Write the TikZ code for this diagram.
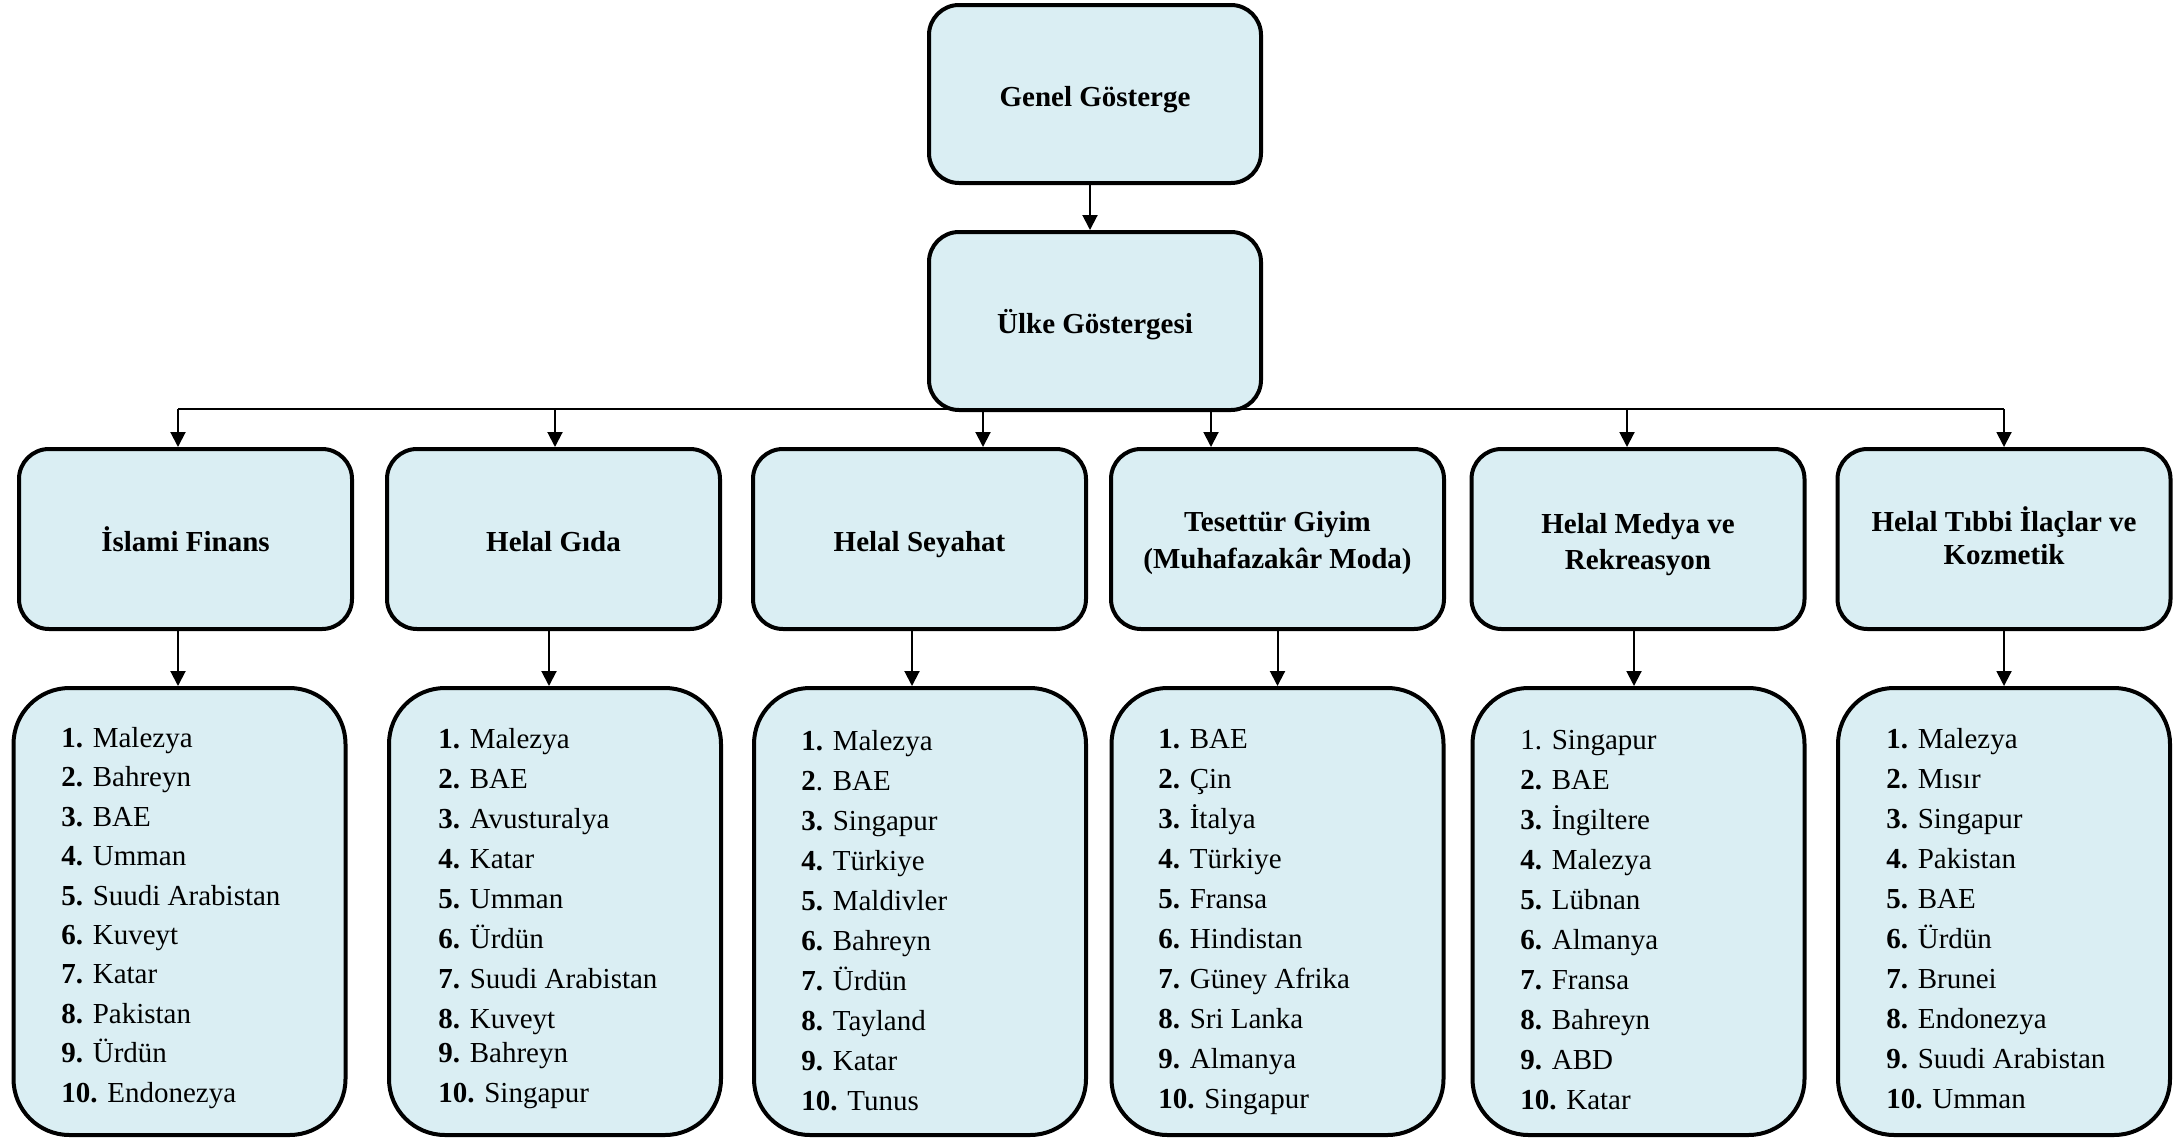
\documentclass[tikz,border=0pt]{standalone}
\usepackage{fontspec}
\setmainfont{Liberation Serif}
\usetikzlibrary{arrows.meta}
\definecolor{boxfill}{HTML}{DAEEF3}
\newcommand\nb[1]{\textbf{#1}}
\newcommand\hstrut[1]{\rule[-3pt]{0pt}{#1}}
\begin{document}
\begin{tikzpicture}[x=0.5pt,y=-0.5pt,
  box/.style={draw=black, line width=2pt, fill=boxfill, rounded corners=15pt,
    minimum width=166.5pt, minimum height=90pt, inner sep=0pt, align=center,
    font=\fontsize{14.5}{17.5}\selectfont\bfseries},
  oneline/.style={text height=15.7pt, text depth=3pt},
  listbox/.style={draw=black, line width=2pt, fill=boxfill, rounded corners=28pt,
    minimum width=166pt, minimum height=223.5pt, inner sep=0pt},
  listtext/.style={anchor=base west, align=left, inner sep=0pt,
    font=\fontsize{14.5}{20}\selectfont},
  arr/.style={line width=1pt, -{Triangle[length=7.5pt,width=7.5pt]}},
  busline/.style={line width=1pt}]
\useasboundingbox (0,0) rectangle (2179,1141);

% bus coordinates
\coordinate (t1) at (178,409);
\coordinate (t2) at (555,409);
\coordinate (t3) at (983,409);
\coordinate (t4) at (1211,409);
\coordinate (t5) at (1627,409);
\coordinate (t6) at (2004,409);
\draw[busline] (t1) -- (t6);

% top boxes
\node[box, oneline, minimum width=166pt, minimum height=89pt] (genel) at (1095,94) {Genel Gösterge};
\node[box, oneline, minimum width=166pt, minimum height=89pt] (ulke) at (1095,321) {Ülke Göstergesi};

% category boxes
\node[box, oneline] (h1) at (185.5,539) {İslami Finans};
\node[box, oneline] (h2) at (553.5,539) {Helal Gıda};
\node[box, oneline] (h3) at (919.5,539) {Helal Seyahat};
\node[box, font=\fontsize{14.5}{18.5}\selectfont\bfseries] (h4) at (1277.5,539) {\hstrut{17pt}Tesettür Giyim\\(Muhafazakâr Moda)\hstrut{0pt}};
\node[box, font=\fontsize{14.5}{18}\selectfont\bfseries] (h5) at (1638,539) {\hstrut{19pt}Helal Medya ve\\Rekreasyon\hstrut{0pt}};
\node[box, font=\fontsize{14.5}{16.5}\selectfont\bfseries] (h6) at (2004,539) {\hstrut{14pt}Helal Tıbbi İlaçlar ve\\Kozmetik\hstrut{0pt}};

% list boxes
\node[listbox] (l1) at (179.5,911.5) {};
\node[listbox] (l2) at (555,911.5) {};
\node[listbox] (l3) at (920,911.5) {};
\node[listbox] (l4) at (1277.5,911.5) {};
\node[listbox] (l5) at (1638.5,911.5) {};
\node[listbox] (l6) at (2004,911.5) {};

% list texts
\node[listtext, font=\fontsize{14.5}{19.7}\selectfont] (c1) at (61,1102) {\nb{1.} Malezya\\\nb{2.} Bahreyn\\\nb{3.} BAE\\\nb{4.} Umman\\\nb{5.} Suudi Arabistan\\\nb{6.} Kuveyt\\\nb{7.} Katar\\\nb{8.} Pakistan\\\nb{9.} Ürdün\\\nb{10.} Endonezya};
\node[listtext] (c2) at (438,1102) {\nb{1.} Malezya\\\nb{2.} BAE\\\nb{3.} Avusturalya\\\nb{4.} Katar\\\nb{5.} Umman\\\nb{6.} Ürdün\\\nb{7.} Suudi Arabistan\\\nb{8.} Kuveyt\\[-3.3pt]\nb{9.} Bahreyn\\\nb{10.} Singapur};
\node[listtext] (c3) at (801,1110) {\nb{1.} Malezya\\\nb{2}. BAE\\\nb{3.} Singapur\\\nb{4.} Türkiye\\\nb{5.} Maldivler\\\nb{6.} Bahreyn\\\nb{7.} Ürdün\\\nb{8.} Tayland\\\nb{9.} Katar\\\nb{10.} Tunus};
\node[listtext] (c4) at (1158,1108) {\nb{1.} BAE\\\nb{2.} Çin\\\nb{3.} İtalya\\\nb{4.} Türkiye\\\nb{5.} Fransa\\\nb{6.} Hindistan\\\nb{7.} Güney Afrika\\\nb{8.} Sri Lanka\\\nb{9.} Almanya\\\nb{10.} Singapur};
\node[listtext] (c5) at (1520,1109) {1. Singapur\\\nb{2.} BAE\\\nb{3.} İngiltere\\\nb{4.} Malezya\\\nb{5.} Lübnan\\\nb{6.} Almanya\\\nb{7.} Fransa\\\nb{8.} Bahreyn\\\nb{9.} ABD\\\nb{10.} Katar};
\node[listtext] (c6) at (1886,1108) {\nb{1.} Malezya\\\nb{2.} Mısır\\\nb{3.} Singapur\\\nb{4.} Pakistan\\\nb{5.} BAE\\\nb{6.} Ürdün\\\nb{7.} Brunei\\\nb{8.} Endonezya\\\nb{9.} Suudi Arabistan\\\nb{10.} Umman};

% connectors
\draw[arr] ([xshift=-2.5pt]genel.south) -- ([xshift=-2.5pt]genel.south |- ulke.north);
\draw[arr] (t1) -- (t1 |- h1.north);
\draw[arr] (t2) -- (t2 |- h2.north);
\draw[arr] (t3) -- (t3 |- h3.north);
\draw[arr] (t4) -- (t4 |- h4.north);
\draw[arr] (t5) -- (t5 |- h5.north);
\draw[arr] (t6) -- (t6 |- h6.north);
\draw[arr] ([xshift=-3.75pt]h1.south) -- ([xshift=-3.75pt]h1.south |- l1.north);
\draw[arr] ([xshift=-2.25pt]h2.south) -- ([xshift=-2.25pt]h2.south |- l2.north);
\draw[arr] ([xshift=-3.75pt]h3.south) -- ([xshift=-3.75pt]h3.south |- l3.north);
\draw[arr] (h4.south) -- (h4.south |- l4.north);
\draw[arr] ([xshift=-2pt]h5.south) -- ([xshift=-2pt]h5.south |- l5.north);
\draw[arr] (h6.south) -- (h6.south |- l6.north);
\end{tikzpicture}
\end{document}
